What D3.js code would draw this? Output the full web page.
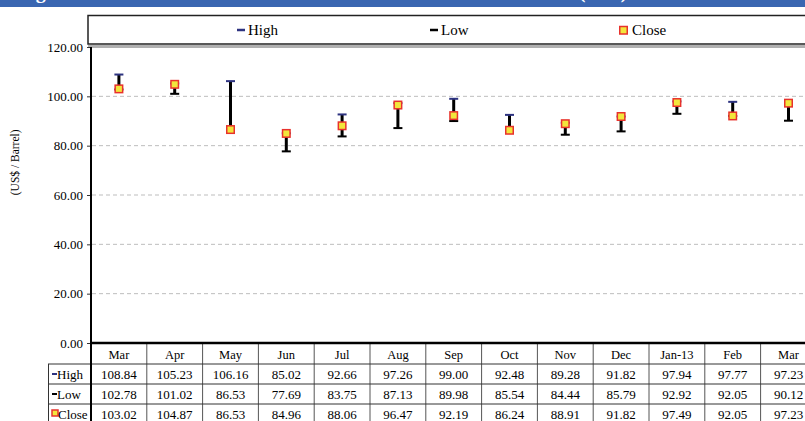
<!DOCTYPE html>
<html><head><meta charset="utf-8">
<script src="https://cdn.jsdelivr.net/npm/d3@7"></script>
<style>
html,body{margin:0;padding:0;background:#fff;overflow:hidden;}
svg{display:block;}
text{font-family:"Liberation Serif","Times New Roman",serif;}
</style></head>
<body>
<svg id="chart" width="805" height="421"></svg>
<script>
const categories = ["Mar","Apr","May","Jun","Jul","Aug","Sep","Oct","Nov","Dec","Jan-13","Feb","Mar"];
const highValues  = [108.84,105.23,106.16,85.02,92.66,97.26,99.00,92.48,89.28,91.82,97.94,97.77,97.23];
const lowValues   = [102.78,101.02,86.53,77.69,83.75,87.13,89.98,85.54,84.44,85.79,92.92,92.05,90.12];
const closeValues = [103.02,104.87,86.53,84.96,88.06,96.47,92.19,86.24,88.91,91.82,97.49,92.05,97.23];
const yTicks = [0,20,40,60,80,100,120];
const seriesNames = ["High","Low","Close"];
const titleText = "Figure 3: Crude Oil Price Movement in the International Market (US$)";
const yTitle = "(US$ / Barrel)";

const svg = d3.select("#chart");
const W = 805, H = 421;
const plotLeft = 91, colW = 55.8, plotTop = 47, plotBottom = 343;
const navy = "#2d3380", red = "#e8322c", yellow = "#f2e63c";

// title band
svg.append("rect").attr("x",0).attr("y",0).attr("width",W).attr("height",7).attr("fill","#3a66b1");
svg.append("text").attr("x",18).attr("y",-2).attr("fill","#fff").attr("font-size",20).attr("font-weight","bold").text(titleText);

const x = d3.scaleBand().domain(d3.range(categories.length)).range([plotLeft, plotLeft + colW*categories.length]).padding(0);
const y = d3.scaleLinear().domain([0,120]).range([plotBottom, plotTop]);

// legend box
svg.append("rect").attr("x",88).attr("y",15.5).attr("width",W).attr("height",28.5)
  .attr("fill","#fff").attr("stroke","#222").attr("stroke-width",1.5);
svg.append("rect").attr("x",88).attr("y",45).attr("width",W).attr("height",3).attr("fill","#b0b0b0");

const legendX = [237, 430, 619];
seriesNames.forEach((s,i)=>{
  const g = svg.append("g").attr("transform",`translate(${legendX[i]},30)`);
  if(s==="Close"){
    g.append("rect").attr("x",0.75).attr("y",-3.5).attr("width",7.5).attr("height",7.5).attr("fill",yellow).attr("stroke",red).attr("stroke-width",1.5);
  } else {
    g.append("line").attr("x1",0).attr("x2",8).attr("y1",0).attr("y2",0).attr("stroke",s==="High"?navy:"#000").attr("stroke-width",2.5);
  }
  g.append("text").attr("x",s==="Close"?13:11).attr("y",5).attr("font-size",15).attr("fill","#000").text(s);
});

// gridlines
svg.append("g").selectAll("line").data(yTicks.filter(t=>t>0 && t<120)).join("line")
  .attr("x1",plotLeft+1).attr("x2",W).attr("y1",d=>y(d)).attr("y2",d=>y(d))
  .attr("stroke","#bdbdbd").attr("stroke-width",1).attr("stroke-dasharray","4,3");

// y axis
const yAxis = d3.axisLeft(y).tickValues(yTicks).tickFormat(d3.format(".2f")).tickSize(4).tickPadding(4);
const ya = svg.append("g").attr("transform",`translate(${plotLeft},0)`).call(yAxis);
ya.select(".domain").remove();
ya.selectAll(".tick line").attr("stroke","#333");
ya.selectAll(".tick text").attr("font-size",13).attr("fill","#000").attr("font-family",'"Liberation Serif","Times New Roman",serif');

svg.append("text").attr("transform",`translate(19,${(y(60)+y(80))/2 - 8}) rotate(-90)`)
  .attr("text-anchor","middle").attr("font-size",11.5).attr("fill","#000").text(yTitle);

// table
const rowTop = 364, rowH = 20;
const tbl = svg.append("g");
tbl.selectAll("line.hv").data(d3.range(categories.length+1)).join("line")
  .attr("x1",i=>plotLeft+i*colW).attr("x2",i=>plotLeft+i*colW)
  .attr("y1",plotBottom).attr("y2",rowTop+rowH*3+5).attr("stroke","#555").attr("stroke-width",1);
[0,1,2,3].forEach(r=>{
  tbl.append("line").attr("x1",48).attr("x2",W).attr("y1",rowTop+r*rowH).attr("y2",rowTop+r*rowH).attr("stroke","#333").attr("stroke-width",1);
});
tbl.append("line").attr("x1",48.5).attr("x2",48.5).attr("y1",rowTop).attr("y2",H).attr("stroke","#333").attr("stroke-width",1);

tbl.selectAll("text.cat").data(categories).join("text")
  .attr("x",(d,i)=>x(i)+x.bandwidth()/2).attr("y",plotBottom+16).attr("text-anchor","middle")
  .attr("font-size",12.5).attr("fill","#000").text(d=>d);

const rows = [highValues, lowValues, closeValues];
rows.forEach((vals,r)=>{
  tbl.selectAll(`text.v${r}`).data(vals).join("text")
    .attr("x",(d,i)=>x(i)+x.bandwidth()/2).attr("y",rowTop+r*rowH+15).attr("text-anchor","middle")
    .attr("font-size",13).attr("fill","#000").text(d=>d.toFixed(2));
  const g = tbl.append("g").attr("transform",`translate(51,${rowTop+r*rowH+10})`);
  const s = seriesNames[r];
  if(s==="Close"){
    g.append("rect").attr("x",1).attr("y",-4).attr("width",6).attr("height",6).attr("fill",yellow).attr("stroke",red).attr("stroke-width",1.5);
  } else {
    g.append("line").attr("x1",1).attr("x2",6).attr("y1",0).attr("y2",0).attr("stroke",s==="High"?navy:"#000").attr("stroke-width",2);
  }
  g.append("text").attr("x",s==="Close"?7:6).attr("y",5).attr("font-size",13).attr("fill","#000").text(s);
});

// axes lines
svg.append("line").attr("x1",plotLeft).attr("x2",W).attr("y1",plotBottom).attr("y2",plotBottom).attr("stroke","#000").attr("stroke-width",2.5);
svg.append("line").attr("x1",plotLeft).attr("x2",plotLeft).attr("y1",plotTop).attr("y2",H).attr("stroke","#000").attr("stroke-width",2);

// marks
const marks = svg.append("g");
const idx = d3.range(categories.length);
const cx = i => x(i)+x.bandwidth()/2;
marks.selectAll("line.rng").data(idx).join("line")
  .attr("x1",cx).attr("x2",cx).attr("y1",i=>y(lowValues[i])).attr("y2",i=>y(highValues[i]))
  .attr("stroke","#000").attr("stroke-width",3);
marks.selectAll("line.hi").data(idx).join("line")
  .attr("x1",i=>cx(i)-4.5).attr("x2",i=>cx(i)+4.5).attr("y1",i=>y(highValues[i])).attr("y2",i=>y(highValues[i]))
  .attr("stroke",navy).attr("stroke-width",2);
marks.selectAll("line.lo").data(idx).join("line")
  .attr("x1",i=>cx(i)-4.5).attr("x2",i=>cx(i)+4.5).attr("y1",i=>y(lowValues[i])).attr("y2",i=>y(lowValues[i]))
  .attr("stroke","#000").attr("stroke-width",2);
marks.selectAll("rect.cl").data(idx).join("rect")
  .attr("x",i=>cx(i)-3.75).attr("y",i=>y(closeValues[i])-3.75).attr("width",7.5).attr("height",7.5)
  .attr("fill",yellow).attr("stroke",red).attr("stroke-width",1.5);
</script>
</body></html>
